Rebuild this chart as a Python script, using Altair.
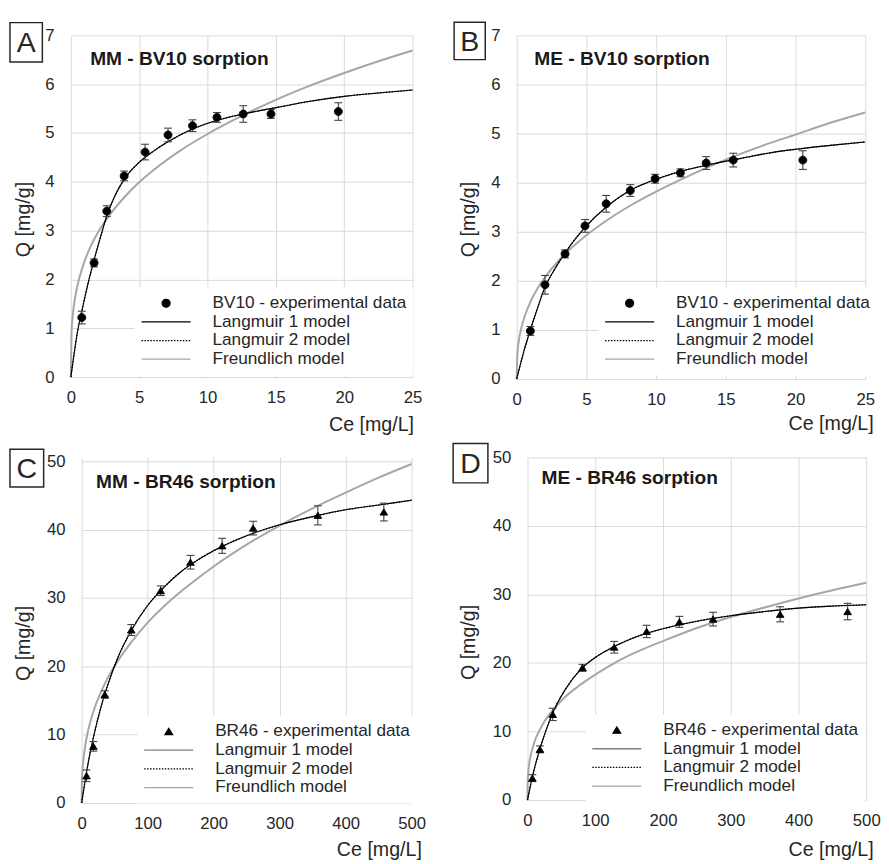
import altair as alt
import pandas as pd

FONT = "Liberation Sans"
TXT = "#262626"
GRID = "#d9d9d9"

# ---------------- Panel A : MM - BV10 ----------------
a_ce = [0.8, 1.7, 2.63, 3.9, 5.43, 7.11, 8.9, 10.69, 12.61, 14.64, 19.57]
a_q = [1.22, 2.34, 3.40, 4.12, 4.61, 4.96, 5.15, 5.32, 5.39, 5.39, 5.44]
a_err = [0.13, 0.08, 0.11, 0.10, 0.16, 0.14, 0.12, 0.10, 0.17, 0.09, 0.18]
a_lang_ce = [0, 0.25, 0.5, 0.8, 1.2, 1.7, 2.2, 2.63, 3.2, 3.9, 5, 6, 7.1, 8.9, 10.7, 12.6, 15, 17.5, 20, 22.5, 25]
a_lang_q = [0, 0.5, 0.95, 1.35, 1.85, 2.4, 2.9, 3.3, 3.7, 4.05, 4.4, 4.62, 4.82, 5.08, 5.26, 5.39, 5.52, 5.65, 5.75, 5.82, 5.88]
a_fr_ce = [0, 0.05, 0.15, 0.35, 0.6, 1, 1.5, 2, 3, 4, 5, 6.5, 8, 10, 12.5, 15, 17.5, 20, 22.5, 25]
a_fr_q = [0, 0.90, 1.29, 1.69, 2.01, 2.37, 2.71, 2.97, 3.38, 3.71, 3.99, 4.34, 4.64, 4.98, 5.35, 5.68, 5.97, 6.23, 6.47, 6.69]

# ---------------- Panel B : ME - BV10 ----------------
b_ce = [0.98, 2.03, 3.47, 4.90, 6.42, 8.15, 9.93, 11.74, 13.59, 15.53, 20.52]
b_q = [0.98, 1.92, 2.55, 3.12, 3.57, 3.84, 4.08, 4.20, 4.40, 4.46, 4.46]
b_err = [0.09, 0.19, 0.08, 0.13, 0.17, 0.12, 0.09, 0.08, 0.13, 0.14, 0.19]
b_lang_ce = [0, 0.5, 1, 1.5, 2, 2.75, 3.5, 4.25, 5, 6.5, 8, 10, 12, 14, 16, 18, 20, 22.5, 25]
b_lang_q = [0, 0.55, 1.02, 1.45, 1.85, 2.25, 2.58, 2.87, 3.12, 3.52, 3.82, 4.07, 4.25, 4.38, 4.49, 4.6, 4.68, 4.76, 4.83]
b_fr_ce = [0, 0.05, 0.15, 0.35, 0.6, 1, 1.5, 2, 3, 4, 5, 6.5, 8, 10, 12.5, 15, 17.5, 20, 22.5, 25]
b_fr_q = [0, 0.50, 0.77, 1.06, 1.30, 1.58, 1.85, 2.06, 2.41, 2.69, 2.93, 3.24, 3.51, 3.82, 4.16, 4.47, 4.74, 4.98, 5.22, 5.43]

# ---------------- Panel C : MM - BR46 ----------------
c_ce = [7.4, 17.8, 35.1, 75.2, 119.8, 164.9, 212.9, 259.9, 357.9, 457.9]
c_q = [3.98, 8.29, 15.87, 25.31, 31.06, 35.23, 37.63, 40.22, 42.09, 42.57]
c_err = [0.85, 0.7, 0.55, 0.8, 0.7, 1.0, 1.1, 1.0, 1.4, 1.3]
c_lang_ce = [0, 5, 10, 20, 30, 40, 55, 75, 100, 125, 150, 175, 200, 250, 300, 350, 400, 450, 500]
c_lang_q = [0, 3.1, 5.9, 10.5, 14.3, 17.4, 21.3, 25.2, 28.9, 31.6, 33.8, 35.5, 36.9, 39.1, 40.7, 41.9, 42.9, 43.6, 44.3]
c_fr_ce = [0, 0.2, 1, 3, 5, 10, 20, 30, 40, 55, 75, 100, 125, 150, 175, 200, 250, 300, 350, 400, 450, 500]
c_fr_q = [0, 2.3, 4.3, 6.6, 8.1, 10.7, 14.0, 16.4, 18.4, 20.8, 23.5, 26.4, 28.8, 30.9, 32.8, 34.6, 37.8, 40.6, 43.1, 45.4, 47.6, 49.6]

# ---------------- Panel D : ME - BR46 ----------------
d_ce = [7.2, 18.4, 37.2, 81.2, 128.0, 175.8, 224.2, 273.9, 372.9, 472.5]
d_q = [3.2, 7.4, 12.5, 19.3, 22.3, 24.6, 26.0, 26.4, 27.1, 27.5]
d_err = [0.5, 0.5, 0.9, 0.5, 0.85, 0.9, 0.8, 1.0, 1.1, 1.2]
d_lang_ce = [0, 5, 10, 20, 30, 40, 55, 80, 100, 130, 160, 200, 250, 300, 350, 400, 450, 500]
d_lang_q = [0, 2.4, 4.5, 8.0, 10.9, 13.3, 16.0, 19.2, 20.8, 22.5, 23.8, 25.0, 26.1, 26.9, 27.5, 28.0, 28.3, 28.5]
d_fr_ce = [0, 0.2, 1, 3, 5, 10, 20, 30, 40, 55, 75, 100, 125, 150, 175, 200, 250, 300, 350, 400, 450, 500]
d_fr_q = [0, 2.2, 3.8, 5.6, 6.6, 8.4, 10.6, 12.2, 13.4, 15.0, 16.6, 18.3, 19.8, 21.1, 22.2, 23.2, 25.1, 26.7, 28.1, 29.4, 30.6, 31.7]

MODELS = ["Langmuir 1 model", "Langmuir 2 model", "Freundlich model"]
# symbol paths (drawn at size 100 -> unit = 5 px)
CIRCLE = "M-0.8,0A0.8,0.8 0 1,0 0.8,0A0.8,0.8 0 1,0 -0.8,0Z"
TRIANGLE = "M0,-0.65L0.775,0.625L-0.775,0.625Z"
LINE = "M-5,0L5,0"


def panel(letter, title, data_name, marker, ce, q, err, l_ce, l_q, f_ce, f_q,
          xmax, xstep, ymax, ystep, w, h, sx, sy, lang1_color, geo):
    """sx, sy: offset (px) of the plotting rectangle inside its grid cell."""
    series = [data_name] + MODELS
    pts = pd.DataFrame({
        "Ce": ce, "Q": q,
        "lo": [a - b for a, b in zip(q, err)],
        "hi": [a + b for a, b in zip(q, err)],
        "series": data_name,
    })
    lang = pd.DataFrame({"Ce": l_ce, "Q": l_q})
    fr = pd.DataFrame({"Ce": f_ce, "Q": f_q})

    xscale = alt.Scale(domain=[0, xmax], range=[sx, sx + w], nice=False, zero=True)
    yscale = alt.Scale(domain=[0, ymax], range=[sy + h, sy], nice=False, zero=True)
    xaxis = alt.Axis(
        values=list(range(0, xmax + 1, xstep)), title="Ce [mg/L]",
        grid=True, gridColor=GRID, gridWidth=1, domain=False, ticks=False,
        labelFont=FONT, labelFontSize=17, labelColor=TXT, labelPadding=13,
        labelFlush=False, labelOverlap=False,
        titleFont=FONT, titleFontSize=20, titleFontWeight="normal", titleColor=TXT,
        titleAlign="right", titleBaseline="alphabetic",
        titleX=sx + w + geo["xtitle"][0], titleY=geo["xtitle"][1])
    yaxis = alt.Axis(
        values=list(range(0, ymax + 1, ystep)), title="Q [mg/g]",
        grid=True, gridColor=GRID, gridWidth=1, domain=False, ticks=False,
        labelFont=FONT, labelFontSize=17, labelColor=TXT, labelPadding=17 - sx,
        labelFlush=False, labelOverlap=False,
        titleFont=FONT, titleFontSize=20, titleFontWeight="normal", titleColor=TXT,
        titleAlign="center", titleBaseline="bottom", titleAngle=270,
        titleX=sx + geo["ytitle"][0], titleY=sy + geo["ytitle"][1])

    def X(f):
        return alt.X(f, type="quantitative", scale=xscale, axis=xaxis)

    def Y(f):
        return alt.Y(f, type="quantitative", scale=yscale, axis=yaxis)

    leg = alt.Legend(
        title=None, orient="none", legendX=sx + geo["legend"][0], legendY=sy + geo["legend"][1],
        fillColor="white", padding=7, symbolSize=100, symbolStrokeWidth=1.3,
        symbolOffset=16.25, symbolFillColor="black", symbolOpacity=1,
        labelFont=FONT, labelFontSize=17.5, labelColor=TXT, labelOffset=38.5,
        rowPadding=0, labelLimit=0)

    colors = ["black", lang1_color, "black", "#a6a6a6"]

    fr_line = alt.Chart(fr).mark_line(color="#a6a6a6", strokeWidth=2, interpolate="monotone").encode(
        x=X("Ce"), y=Y("Q"))
    l1_line = alt.Chart(lang).mark_line(color="black", strokeWidth=1.1, interpolate="monotone").encode(
        x=X("Ce"), y=Y("Q"))
    l2_line = alt.Chart(lang).mark_line(color="black", strokeWidth=1.3, strokeDash=[1.5, 1.5],
                                        interpolate="monotone").encode(x=X("Ce"), y=Y("Q"))
    bars = alt.Chart(pts).mark_rule(color="#404040", strokeWidth=1.1).encode(
        x=X("Ce"), y=Y("lo"), y2="hi")
    cap_lo = alt.Chart(pts).mark_tick(orient="horizontal", size=8, thickness=1.1, color="#404040",
                                      opacity=1).encode(x=X("Ce"), y=Y("lo"))
    cap_hi = alt.Chart(pts).mark_tick(orient="horizontal", size=8, thickness=1.1, color="#404040",
                                      opacity=1).encode(x=X("Ce"), y=Y("hi"))
    points = alt.Chart(pts).mark_point(filled=False, fill="black", size=100, strokeWidth=1,
                                       opacity=1).encode(
        x=X("Ce"), y=Y("Q"),
        color=alt.Color("series:N", scale=alt.Scale(domain=series, range=colors), legend=leg),
        shape=alt.Shape("series:N", scale=alt.Scale(domain=series,
                                                     range=[marker, LINE, LINE, LINE]),
                        legend=leg),
        strokeDash=alt.StrokeDash("series:N",
                                  scale=alt.Scale(domain=series,
                                                  range=[[1, 0], [1, 0], [1.5, 1.5], [1, 0]]),
                                  legend=leg),
    )

    ann = pd.DataFrame({"t": [letter]})
    bx = geo["box"]
    box = alt.Chart(ann).mark_rect(fill="white", stroke="#262626", strokeWidth=1.5).encode(
        x=alt.value(sx + bx[0]), x2=alt.value(sx + bx[1]),
        y=alt.value(sy + bx[2]), y2=alt.value(sy + bx[3]))
    lett = alt.Chart(ann).mark_text(font=FONT, fontSize=29, color=TXT, align="center",
                                    baseline="alphabetic").encode(
        x=alt.value(sx + geo["letter"][0]), y=alt.value(sy + geo["letter"][1]), text="t:N")
    ttl = alt.Chart(pd.DataFrame({"t": [title]})).mark_text(
        font=FONT, fontSize=19.5, fontWeight="bold", color="#1a1a1a", align="left",
        baseline="alphabetic").encode(
        x=alt.value(sx + geo["title"][0]), y=alt.value(sy + geo["title"][1]), text="t:N")

    layers = [fr_line, l1_line, l2_line, bars, cap_lo, cap_hi, points, box, lett, ttl]
    return alt.layer(*layers).properties(width=w + sx, height=h + sy)


pA = panel("A", "MM - BV10 sorption", "BV10 - experimental data", CIRCLE,
           a_ce, a_q, a_err, a_lang_ce, a_lang_q, a_fr_ce, a_fr_q,
           25, 5, 7, 1, 348, 348, 0, 0, "black",
           dict(box=(-62, -29, -13, 27), letter=(-45.5, 17.3), title=(19.7, 29.7),
                ytitle=(-38, 187), xtitle=(1, 54), legend=(65, 257)))
pB = panel("B", "ME - BV10 sorption", "BV10 - experimental data", CIRCLE,
           b_ce, b_q, b_err, b_lang_ce, b_lang_q, b_fr_ce, b_fr_q,
           25, 5, 7, 1, 355, 350, 0, 0, "black",
           dict(box=(-63.7, -32, -13.3, 24.7), letter=(-47.8, 16), title=(18, 29.7),
                ytitle=(-39, 187), xtitle=(8, 51), legend=(83, 257)))
pC = panel("C", "MM - BR46 sorption", "BR46 - experimental data", TRIANGLE,
           c_ce, c_q, c_err, c_lang_ce, c_lang_q, c_fr_ce, c_fr_q,
           500, 100, 50, 10, 336, 348, 11, 4, "#7f7f7f",
           dict(box=(-73, -38.7, -12.3, 26.3), letter=(-56, 17), title=(14.7, 27.7),
                ytitle=(-49, 185), xtitle=(10, 53.5), legend=(56.7, 259.5)))
pD = panel("D", "ME - BR46 sorption", "BR46 - experimental data", TRIANGLE,
           d_ce, d_q, d_err, d_lang_ce, d_lang_q, d_fr_ce, d_fr_q,
           500, 100, 50, 10, 345, 349, 11, 0, "#7f7f7f",
           dict(box=(-75.7, -40.3, -14, 26), letter=(-58, 16), title=(14.3, 26.7),
                ytitle=(-50, 188), xtitle=(7, 56.5), legend=(59, 262)))

IND = dict(color="independent", shape="independent", strokeDash="independent")

chart = alt.concat(
    pA, pB, pC, pD, columns=2, align="all", bounds="flush",
    spacing={"row": 77.7, "column": 98},
).resolve_scale(**IND).resolve_legend(**IND).properties(
    padding={"left": 1, "top": 5, "right": 0, "bottom": 0},
    background="white",
).configure_view(stroke=None)

chart.save("out.html", embed_options={"renderer": "svg", "actions": False})
